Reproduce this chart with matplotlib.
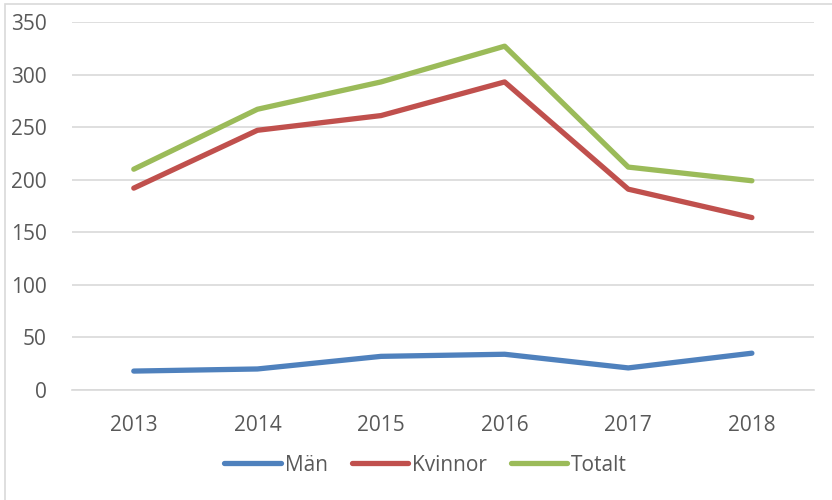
import matplotlib
matplotlib.use("Agg")
from matplotlib import pyplot as plt
from matplotlib.patches import Rectangle

years = ["2013", "2014", "2015", "2016", "2017", "2018"]
man = [18, 20, 32, 34, 21, 35]
kvinnor = [192, 247, 261, 293, 191, 164]
totalt = [210, 267, 293, 327, 212, 199]

plt.rcParams['font.family'] = ['Open Sans', 'DejaVu Sans']
TXT = '#595959'
GRID = '#D9D9D9'

fig = plt.figure(figsize=(8.32, 5.0), dpi=100)
ax = fig.add_axes([0.0865, 0.22, 0.8915, 0.736])

# outer frame (only left and top edges visible in the reference)
fig.patches.append(Rectangle((0.006, -0.1), 1.2, 1.092, transform=fig.transFigure,
                             fill=False, edgecolor=GRID, linewidth=1.2))

x = range(len(years))
ax.plot(x, man, color='#4F81BD', lw=3.8, solid_capstyle='round', label='Män')
ax.plot(x, kvinnor, color='#C0504D', lw=3.8, solid_capstyle='round', label='Kvinnor')
ax.plot(x, totalt, color='#9BBB59', lw=3.8, solid_capstyle='round', label='Totalt')

ax.set_xlim(-0.5, len(years) - 0.5)
ax.set_ylim(0, 350)
ax.set_yticks(range(0, 351, 50))
ax.set_xticks(list(x))
ax.set_xticklabels(years)
ax.yaxis.grid(True, color=GRID, lw=1.2)
ax.set_axisbelow(True)
for s in ['top', 'right', 'left']:
    ax.spines[s].set_visible(False)
ax.spines['bottom'].set_color(GRID)
ax.spines['bottom'].set_linewidth(1.2)
ax.tick_params(axis='both', length=0, labelsize=15, colors=TXT)
ax.tick_params(axis='y', pad=18)
ax.tick_params(axis='x', pad=18)

leg = ax.legend(loc='center', bbox_to_anchor=(0.477, -0.204), ncol=3, frameon=False,
                fontsize=15, handlelength=2.7, handletextpad=0.2, columnspacing=1.15)
for t in leg.get_texts():
    t.set_color(TXT)

fig.savefig('out.png', dpi=100)
